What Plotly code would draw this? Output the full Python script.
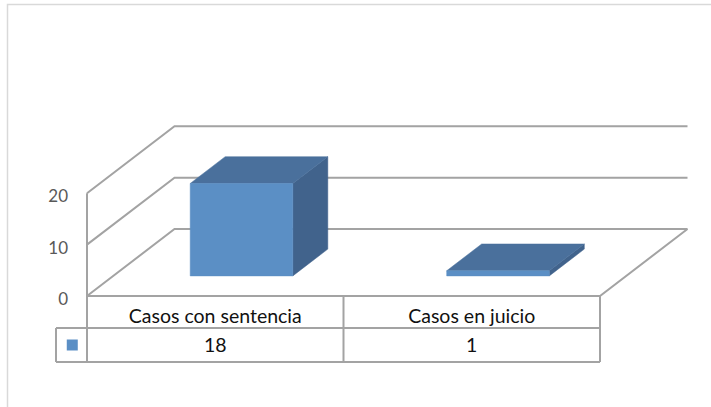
import plotly.graph_objects as go

# ---------------- data ----------------
categories = ["Casos con sentencia", "Casos en juicio"]
values = [18, 1]
tick_values = [0, 10, 20]

# ---------------- geometry / style ----------------
W, H = 711, 407
X_PX0, X_PX_PER_CAT = 87.0, 256.5      # pixel of category-edge 0, pixels per category
Y_PX0, Y_PX_PER_UNIT = 296.0, 5.135     # pixel of value 0, pixels per value unit
DEPTH_X = 87.5 / X_PX_PER_CAT            # oblique depth shift (category units)
DEPTH_Y = 67.0 / Y_PX_PER_UNIT           # oblique depth shift (value units)
BAR_W = 0.40
BAR_D0, BAR_D1 = 0.30, 0.70
ROW1_H = 32 / Y_PX_PER_UNIT
ROW2_H = 34 / Y_PX_PER_UNIT
KEY_W = 31 / X_PX_PER_CAT

GRID = "#a3a3a3"
FRONT, TOP, SIDE = "#5B8FC5", "#4A709C", "#41638C"
FONT = "Lato"

n = len(categories)
y_top = max(tick_values)


def proj(x, y, d):
    return x + d * DEPTH_X, y + d * DEPTH_Y


fig = go.Figure()

# ---- walls / floor lines ----
gx, gy = [], []
for v in tick_values:
    pts = [proj(0, v, 0), proj(0, v, 1), proj(n, v, 1)]
    gx += [p[0] for p in pts] + [None]
    gy += [p[1] for p in pts] + [None]
# front-left vertical edge
gx += [0, 0, None]
gy += [0, y_top, None]
# floor front + right edge
pts = [proj(0, 0, 0), proj(n, 0, 0), proj(n, 0, 1)]
gx += [p[0] for p in pts] + [None]
gy += [p[1] for p in pts] + [None]
fig.add_trace(go.Scatter(x=gx, y=gy, mode="lines",
                         line=dict(color=GRID, width=2),
                         hoverinfo="skip", showlegend=False))

# ---- 3D bars ----
def face(pts, color):
    xs = [p[0] for p in pts] + [pts[0][0]]
    ys = [p[1] for p in pts] + [pts[0][1]]
    fig.add_trace(go.Scatter(x=xs, y=ys, mode="lines", fill="toself",
                             fillcolor=color, line=dict(color=color, width=0.5),
                             hoverinfo="skip", showlegend=False))


for i, v in enumerate(values):
    x0 = i + 0.5 - BAR_W / 2
    x1 = i + 0.5 + BAR_W / 2
    # side face
    face([proj(x1, 0, BAR_D0), proj(x1, 0, BAR_D1), proj(x1, v, BAR_D1), proj(x1, v, BAR_D0)], SIDE)
    # top face
    face([proj(x0, v, BAR_D0), proj(x1, v, BAR_D0), proj(x1, v, BAR_D1), proj(x0, v, BAR_D1)], TOP)
    # front face
    face([proj(x0, 0, BAR_D0), proj(x1, 0, BAR_D0), proj(x1, v, BAR_D0), proj(x0, v, BAR_D0)], FRONT)

# ---- data table ----
tx, ty = [], []
r1 = -ROW1_H
r2 = -ROW1_H - ROW2_H
# horizontal lines
tx += [0, n, None, -KEY_W, n, None, -KEY_W, n, None]
ty += [0, 0, None, r1, r1, None, r2, r2, None]
# vertical lines
for k in range(n + 1):
    tx += [k, k, None]
    ty += [0, r2, None]
tx += [-KEY_W, -KEY_W, None]
ty += [r1, r2, None]
fig.add_trace(go.Scatter(x=tx, y=ty, mode="lines",
                         line=dict(color=GRID, width=2),
                         hoverinfo="skip", showlegend=False))

centers = [i + 0.5 for i in range(n)]
fig.add_trace(go.Scatter(x=centers, y=[-ROW1_H / 2 - 1.2] * n, mode="text",
                         text=categories, textposition="middle center",
                         textfont=dict(family=FONT, size=19.5, color="#111111"),
                         hoverinfo="skip", showlegend=False))
fig.add_trace(go.Scatter(x=centers, y=[r1 - ROW2_H / 2 - 0.4] * n, mode="text",
                         text=[str(v) for v in values], textposition="middle center",
                         textfont=dict(family=FONT, size=19.5, color="#111111"),
                         hoverinfo="skip", showlegend=False))
# legend key
fig.add_trace(go.Scatter(x=[-KEY_W / 2 + 0.003], y=[r1 - ROW2_H / 2], mode="markers",
                         marker=dict(symbol="square", size=11, color=FRONT),
                         hoverinfo="skip", showlegend=False))

# ---- layout ----
x_range = [-X_PX0 / X_PX_PER_CAT, (W - X_PX0) / X_PX_PER_CAT]
y_range = [-(H - Y_PX0) / Y_PX_PER_UNIT, Y_PX0 / Y_PX_PER_UNIT]

fig.update_layout(
    width=W, height=H,
    margin=dict(l=0, r=0, t=0, b=0),
    paper_bgcolor="white", plot_bgcolor="white",
    xaxis=dict(range=x_range, visible=False, domain=[0, 1], fixedrange=True),
    yaxis=dict(range=y_range, domain=[0, 1], anchor="free", position=X_PX0 / W,
               tickvals=tick_values, ticktext=[str(t) for t in tick_values],
               showgrid=False, zeroline=False, showline=False, ticks="",
               ticklabelstandoff=19, ticklabelshift=3, automargin=False,
               tickfont=dict(family=FONT, size=17, color="#595959"),
               fixedrange=True),
    shapes=[dict(type="rect", xref="paper", yref="paper",
                 x0=7.5 / W, x1=1.02, y0=-0.02, y1=1 - 4.5 / H,
                 line=dict(color="#d9d9d9", width=1.5), fillcolor="rgba(0,0,0,0)",
                 layer="below")],
    showlegend=False,
)

fig.write_html("out.html", config={"displayModeBar": False},
               post_script="document.body.style.margin='0';document.body.style.overflow='hidden';")
